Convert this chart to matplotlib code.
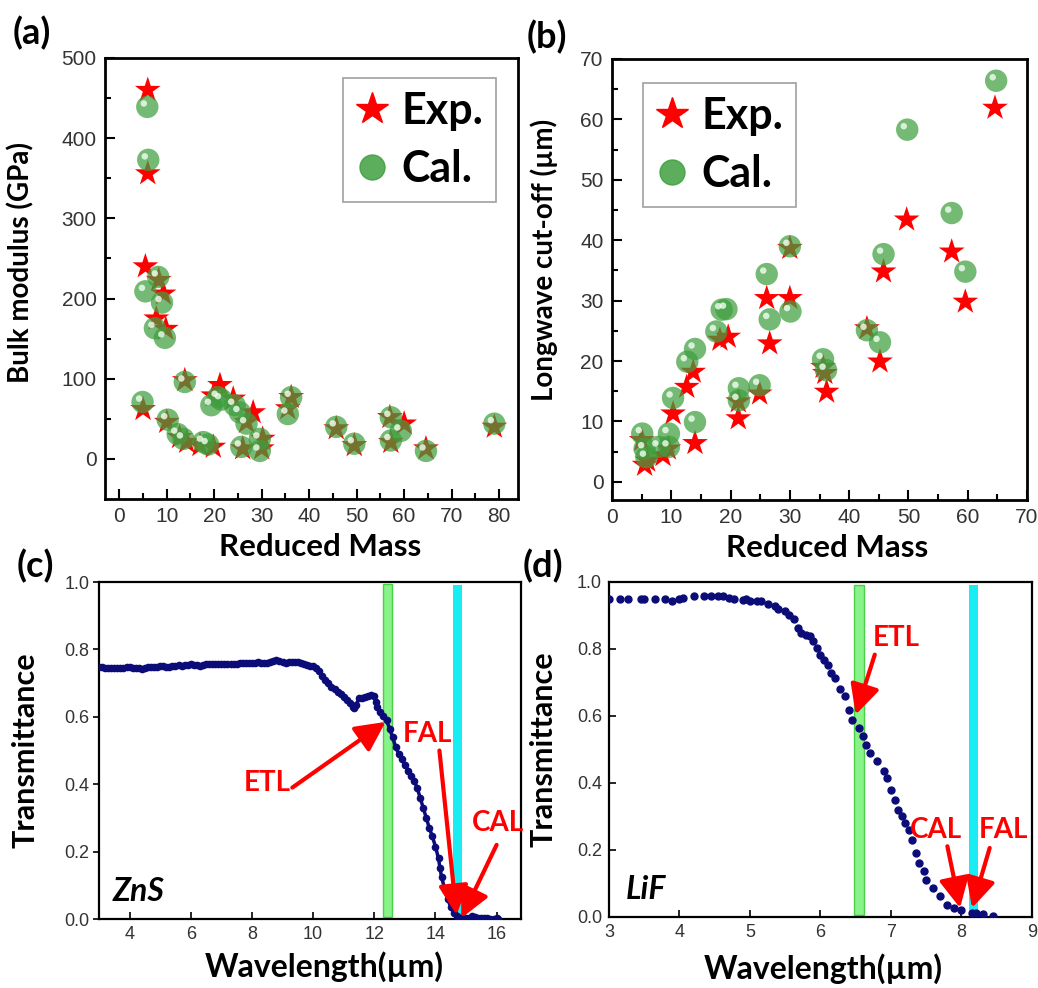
import matplotlib
matplotlib.use("Agg")
import matplotlib.pyplot as plt
from matplotlib.lines import Line2D
from matplotlib import transforms

# ---- data ----
# (a) bulk modulus vs reduced mass
a_exp_x = [6.0, 6.0, 5.5, 8.3, 9.3, 7.8, 9.8, 5.0, 13.8, 21.2, 19.8, 24.0, 10.0, 12.7, 14.2, 17.0,
           19.8, 26.8, 28.2, 26.0, 30.0, 30.2, 35.5, 36.2, 45.7, 49.5, 57.0, 60.0, 57.2, 64.6, 79.0]
a_exp_y = [460, 356, 240, 223, 206, 175, 162, 62, 98, 92, 79, 75, 46, 27, 21, 17,
           15, 46, 58, 13, 13, 25, 63, 77, 38, 17, 52, 44, 21, 13, 40]
a_cal_x = [5.9, 6.1, 5.5, 8.2, 9.0, 7.5, 9.6, 4.9, 13.8, 10.2, 12.3, 13.5, 17.7, 18.7, 19.4, 20.8,
           24.3, 25.4, 26.8, 25.7, 29.6, 29.6, 35.5, 36.2, 45.7, 49.5, 57.2, 59.3, 57.2, 64.6, 79.0, 21.5]
a_cal_y = [439, 373, 209, 227, 195, 163, 151, 71, 96, 49, 31, 25, 21, 18, 67, 77,
           67, 58, 44, 15, 25, 10, 56, 77, 40, 19, 52, 35, 23, 10, 44, 74]

# (b) longwave cut-off vs reduced mass
b_exp_x = [64.6, 49.7, 57.3, 59.6, 45.8, 45.2, 43.0, 30.0, 30.0, 26.1, 26.6, 24.9, 21.3, 21.3, 18.2,
           19.6, 14.0, 13.7, 12.6, 10.3, 9.5, 8.6, 5.5, 5.0, 36.2, 35.9, 35.6, 6.0]
b_exp_y = [61.9, 43.4, 38.1, 29.8, 34.8, 19.9, 25.4, 38.7, 30.4, 30.4, 22.9, 14.6, 10.5, 13.3, 23.5,
           24.0, 6.4, 18.2, 15.7, 11.3, 5.5, 4.4, 2.8, 6.9, 14.9, 18.0, 19.0, 3.5]
b_cal_x = [64.8, 49.8, 57.3, 59.6, 45.8, 45.2, 43.0, 30.0, 30.1, 26.1, 26.6, 24.9, 21.4, 21.4, 18.5,
           19.3, 17.6, 14.0, 12.7, 14.0, 10.3, 9.6, 7.9, 9.6, 5.1, 5.5, 5.8, 35.6, 36.1]
b_cal_y = [66.4, 58.3, 44.5, 34.8, 37.7, 23.1, 25.1, 39.0, 28.2, 34.4, 26.9, 16.0, 15.5, 13.5, 28.5,
           28.6, 24.9, 22.0, 19.9, 9.9, 13.9, 8.0, 5.8, 5.8, 8.0, 5.5, 4.1, 20.3, 18.5]

# (c) ZnS transmittance
zns_x = [3.0, 3.1, 3.2, 3.3, 3.4, 3.5, 3.6, 3.7, 3.8, 3.9, 4.0, 4.1, 4.2, 4.3, 4.4, 4.5, 4.6, 4.7,
         4.8, 4.9, 5.0, 5.1, 5.2, 5.3, 5.4, 5.5, 5.6, 5.7, 5.8, 5.9, 6.0, 6.1, 6.2, 6.3, 6.4, 6.5,
         6.6, 6.7, 6.8, 6.9, 7.0, 7.1, 7.2, 7.3, 7.4, 7.5, 7.6, 7.7, 7.8, 7.9, 8.0, 8.1, 8.2, 8.3,
         8.4, 8.5, 8.6, 8.7, 8.8, 8.9, 9.0, 9.1, 9.2, 9.3, 9.4, 9.5, 9.6, 9.7, 9.8, 9.9, 10.0,
         10.1, 10.2, 10.3, 10.4, 10.5, 10.6, 10.7, 10.8, 10.9, 11.0, 11.1, 11.2, 11.3, 11.35, 11.4,
         11.5, 11.6, 11.7, 11.8, 11.9, 12.0, 12.05, 12.1, 12.2, 12.3, 12.4, 12.5, 12.6, 12.7, 12.8,
         12.9, 13.0, 13.1, 13.2, 13.3, 13.4, 13.5, 13.6, 13.7, 13.8, 13.9, 14.0, 14.1, 14.15, 14.2,
         14.3, 14.4, 14.5, 14.6, 14.7, 14.8, 14.9, 15.0, 15.1, 15.2, 15.3, 15.4, 15.5, 15.6, 15.7,
         15.8, 15.9, 16.0, 16.05]
zns_t = [.748, .747, .746, .745, .746, .745, .744, .745, .746, .747, .747, .745, .746, .745, .742,
         .745, .747, .748, .749, .748, .750, .751, .749, .748, .750, .752, .753, .752, .754, .755,
         .756, .755, .753, .751, .754, .756, .757, .757, .757, .756, .757, .757, .756, .757, .758,
         .757, .759, .760, .760, .761, .761, .760, .762, .761, .760, .761, .763, .765, .768, .766,
         .762, .760, .762, .764, .763, .762, .760, .758, .755, .752, .750,
         .745, .735, .722, .710, .700, .690, .682, .675, .668, .660, .650, .641, .630, .625, .635,
         .655, .657, .660, .663, .664, .662, .645, .630, .615, .602, .590, .565, .540, .510, .490,
         .475, .458, .440, .425, .410, .390, .360, .330, .300, .270, .245, .215, .180, .150, .125,
         .090, .060, .035, .018, .008, .004, .002, .003, .004, .008, .006, .003, .002, .002, .002,
         .001, .001, .004, .001]

# (d) LiF transmittance
lif_x = [3.0, 3.15, 3.27, 3.45, 3.5, 3.65, 3.8, 3.9, 4.0, 4.05, 4.2, 4.35, 4.45, 4.55, 4.62, 4.7,
         4.78, 4.9, 4.95, 5.0, 5.1, 5.15, 5.25, 5.35, 5.4, 5.5, 5.55, 5.62, 5.68, 5.73, 5.8, 5.85,
         5.9, 5.95, 6.0, 6.05, 6.1, 6.15, 6.2, 6.28, 6.35, 6.4, 6.45, 6.55, 6.6, 6.65, 6.7, 6.8,
         6.9, 6.95, 7.0, 7.05, 7.1, 7.15, 7.2, 7.25, 7.3, 7.35, 7.4, 7.47, 7.5, 7.6, 7.7, 7.8,
         7.9, 8.0, 8.15, 8.2, 8.3, 8.45]
lif_t = [.949, .949, .949, .949, .949, .949, .949, .944, .949, .953, .957, .957, .957, .957, .957,
         .952, .949, .947, .950, .942, .942, .942, .934, .929, .919, .912, .902, .888, .863, .848,
         .843, .838, .823, .803, .783, .768, .753, .728, .713, .679, .659, .619, .589, .564, .539,
         .514, .490, .465, .435, .415, .380, .350, .320, .300, .280, .260, .230, .190, .160, .136,
         .110, .087, .062, .037, .027, .022, .012, .012, .010, .004]

xlim_a = (-3, 84)
ylim_a = (-50, 500)
xlim_b = (0, 70)
ylim_b = (-3, 70)

fig = plt.figure(figsize=(10.38, 9.88), dpi=100)
txt_font = ['Lato', 'DejaVu Sans']
tick_font = ['Liberation Sans', 'DejaVu Sans']

ax_a = fig.add_axes([0.1012, 0.4949, 0.3979, 0.4464])
ax_b = fig.add_axes([0.5896, 0.4939, 0.3998, 0.4464])
ax_c = fig.add_axes([0.0954, 0.0698, 0.4066, 0.3411])
ax_d = fig.add_axes([0.5867, 0.0719, 0.4075, 0.3391])

green = '#3f9f3f'
star_s = 380
ball_s = 260


def scatter_panel(ax, ex, ey, cx, cy):
    ax.scatter(ex, ey, marker='*', s=star_s, c='red', edgecolors='none', zorder=3)
    ax.scatter(cx, cy, marker='o', s=ball_s, c=green, alpha=0.72, edgecolors='none', zorder=4)
    hl = transforms.offset_copy(ax.transData, fig=fig, x=-2.5, y=2.5, units='points')
    ax.scatter(cx, cy, marker='o', s=22, c='#f2fff2', alpha=0.8, edgecolors='none',
               transform=hl, zorder=5)
    ax.tick_params(direction='in', length=7, width=1.5, labelsize=15, labelcolor='#333333', pad=6)
    ax.tick_params(which='minor', direction='in', length=4, width=1.5)
    for s in ax.spines.values():
        s.set_linewidth(2)
    h1 = Line2D([], [], marker='*', ls='none', color='red', ms=24)
    h2 = Line2D([], [], marker='o', ls='none', color=green, alpha=0.85, ms=18)
    return [h1, h2]


def add_legend(ax, handles, anchor):
    leg = ax.legend(handles, ['Exp.', 'Cal.'], loc='upper left', bbox_to_anchor=anchor,
                    prop={'family': txt_font, 'weight': 'bold', 'size': 31},
                    frameon=True, fancybox=False, edgecolor='#888888', borderpad=0.3,
                    labelspacing=0.42, handletextpad=0.3, handlelength=0.75, borderaxespad=0)
    leg.get_frame().set_linewidth(1.2)


# (a)
handles = scatter_panel(ax_a, a_exp_x, a_exp_y, a_cal_x, a_cal_y)
ax_a.set_xlim(*xlim_a)
ax_a.set_ylim(*ylim_a)
ax_a.set_xticks(range(0, 81, 10))
ax_a.set_xticks(range(5, 81, 10), minor=True)
ax_a.set_yticks(range(0, 501, 100))
ax_a.set_yticks(range(50, 500, 100), minor=True)
ax_a.set_xlabel('Reduced Mass', fontsize=22.5, fontweight='bold', family=txt_font)
ax_a.set_ylabel('Bulk modulus (GPa)', fontsize=20, fontweight='bold', family=txt_font)
ax_a.xaxis.set_label_coords(0.52, -0.078)
ax_a.yaxis.set_label_coords(-0.172, 0.537)
add_legend(ax_a, handles, (0.576, 0.955))

# (b)
handles = scatter_panel(ax_b, b_exp_x, b_exp_y, b_cal_x, b_cal_y)
ax_b.set_xlim(*xlim_b)
ax_b.set_ylim(*ylim_b)
ax_b.set_xticks(range(0, 71, 10))
ax_b.set_xticks(range(5, 70, 10), minor=True)
ax_b.set_yticks(range(0, 71, 10))
ax_b.set_yticks(range(5, 70, 10), minor=True)
ax_b.set_xlabel('Reduced Mass', fontsize=22.5, fontweight='bold', family=txt_font)
ax_b.set_ylabel('Longwave cut-off (\u00b5m)', fontsize=20, fontweight='bold', family=txt_font)
ax_b.xaxis.set_label_coords(0.518, -0.078)
ax_b.yaxis.set_label_coords(-0.13, 0.544)
add_legend(ax_b, handles, (0.075, 0.946))

for ax in (ax_a, ax_b):
    for lab in ax.get_xticklabels() + ax.get_yticklabels():
        lab.set_family(tick_font)

# (c) & (d) transmittance
navy = '#0c0c78'
arrow = dict(arrowstyle='-|>,head_length=0.9,head_width=0.45', color='red', lw=3,
             mutation_scale=20, shrinkA=0, shrinkB=0)
red_txt = dict(color='red', fontsize=20, fontweight='bold', family=txt_font,
               ha='center', va='center', zorder=6)

ax_c.axvspan(12.3, 12.57, ymin=0.005, ymax=0.995, facecolor='#7cf27c', edgecolor='#3ccc3c',
             lw=1, alpha=0.9, zorder=1)
ax_c.axvspan(14.59, 14.86, ymin=0.005, ymax=0.99, facecolor='#19ecf2', edgecolor='none', zorder=1)
ax_c.plot(zns_x, zns_t, color=navy, lw=2.5, marker='o', ms=4.5, zorder=3)
ax_c.set_xlim(3, 16.8)
ax_c.set_ylim(0, 1.0)
ax_c.set_xticks([4, 6, 8, 10, 12, 14, 16])
ax_c.set_yticks([0.0, 0.2, 0.4, 0.6, 0.8, 1.0])
ax_c.tick_params(axis='x', direction='in', length=5, width=1.2, labelsize=13,
                 labelcolor='#333333', pad=5)
ax_c.tick_params(axis='y', direction='out', length=4, width=1.2, labelsize=13,
                 labelcolor='#333333', pad=3)
ax_c.text(3.45, 0.082, 'ZnS', fontsize=23, fontweight='bold', style='italic', family=txt_font,
          ha='left', va='center')
ax_c.text(8.5, 0.405, 'ETL', **red_txt)
ax_c.annotate('', xy=(12.37, 0.585), xytext=(9.32, 0.39), arrowprops=arrow, zorder=5)
ax_c.text(13.75, 0.55, 'FAL', **red_txt)
ax_c.annotate('', xy=(14.69, 0.012), xytext=(14.13, 0.50), arrowprops=arrow, zorder=5)
ax_c.text(16.05, 0.285, 'CAL', **red_txt)
ax_c.annotate('', xy=(14.85, 0.003), xytext=(16.0, 0.22), arrowprops=arrow, zorder=5)
ax_c.set_xlabel('Wavelength(\u00b5m)', fontsize=23, family=txt_font, fontweight='bold')
ax_c.set_ylabel('Transmittance', fontsize=22, family=txt_font, fontweight='bold')
ax_c.xaxis.set_label_coords(0.533, -0.095)
ax_c.yaxis.set_label_coords(-0.142, 0.5)

ax_d.axvspan(6.475, 6.62, ymin=0.005, ymax=0.99, facecolor='#7cf27c', edgecolor='#3ccc3c',
             lw=1, alpha=0.9, zorder=1)
ax_d.axvspan(8.11, 8.23, ymin=0.005, ymax=0.99, facecolor='#19ecf2', edgecolor='none', zorder=1)
ax_d.plot(lif_x, lif_t, color=navy, ls='none', marker='o', ms=5, zorder=3)
ax_d.set_xlim(3, 9)
ax_d.set_ylim(0, 1.0)
ax_d.set_xticks([3, 4, 5, 6, 7, 8, 9])
ax_d.set_yticks([0.0, 0.2, 0.4, 0.6, 0.8, 1.0])
ax_d.tick_params(direction='in', length=5, width=1.2, labelsize=13, labelcolor='#333333', pad=5)
ax_d.text(3.24, 0.082, 'LiF', fontsize=23, fontweight='bold', style='italic', family=txt_font,
          ha='left', va='center')
ax_d.text(7.08, 0.833, 'ETL', **red_txt)
ax_d.annotate('', xy=(6.50, 0.604), xytext=(6.77, 0.783), arrowprops=arrow, zorder=5)
ax_d.text(7.64, 0.26, 'CAL', **red_txt)
ax_d.annotate('', xy=(7.98, 0.027), xytext=(7.80, 0.211), arrowprops=arrow, zorder=5)
ax_d.text(8.59, 0.26, 'FAL', **red_txt)
ax_d.annotate('', xy=(8.15, 0.027), xytext=(8.40, 0.206), arrowprops=arrow, zorder=5)
ax_d.set_xlabel('Wavelength(\u00b5m)', fontsize=23, family=txt_font, fontweight='bold')
ax_d.set_ylabel('Transmittance', fontsize=22, family=txt_font, fontweight='bold')
ax_d.xaxis.set_label_coords(0.506, -0.108)
ax_d.yaxis.set_label_coords(-0.121, 0.5)

for ax in (ax_c, ax_d):
    for s in ax.spines.values():
        s.set_linewidth(1.6)
    for lab in ax.get_xticklabels() + ax.get_yticklabels():
        lab.set_family(tick_font)

# panel letters
for x, y, t in [(13, 33, '(a)'), (527, 37, '(b)'), (17, 566, '(c)'), (523, 566, '(d)')]:
    fig.text(x / 1038, 1 - y / 988, t, fontsize=26, fontweight='bold', family=txt_font,
             ha='left', va='center')

fig.savefig('out.png', dpi=100)
